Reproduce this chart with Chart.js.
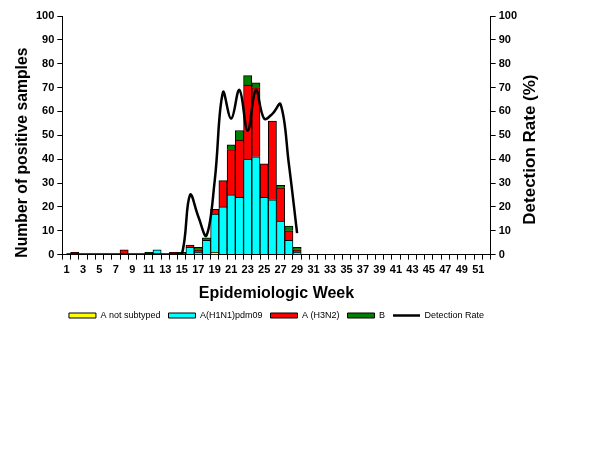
<!DOCTYPE html>
<html>
<head>
<meta charset="utf-8">
<script src="https://cdn.jsdelivr.net/npm/chart.js@4.4.1/dist/chart.umd.min.js"></script>
<style>
  html, body { margin: 0; padding: 0; background: #fff; }
  #wrap { width: 614px; height: 460px; }
</style>
</head>
<body>
<div id="wrap"><canvas id="fluChart" width="614" height="460"></canvas></div>
<script>
// epidemiologic weeks
const weeks = [
  1, 2, 3, 4, 5, 6, 7, 8, 9, 10, 11, 12, 13,
  14, 15, 16, 17, 18, 19, 20, 21, 22, 23, 24, 25, 26,
  27, 28, 29, 30, 31, 32, 33, 34, 35, 36, 37, 38, 39,
  40, 41, 42, 43, 44, 45, 46, 47, 48, 49, 50, 51, 52
];

// positive samples per week
const notSubtyped = [
  0, 0, 0, 0, 0, 0, 0, 0, 0, 0, 0, 0, 0,
  0, 0, 0, 0, 0, 1, 0, 0, 0, 0, 0, 0, 0,
  0, 0, 0, 0, 0, 0, 0, 0, 0, 0, 0, 0, 0,
  0, 0, 0, 0, 0, 0, 0, 0, 0, 0, 0, 0, 0
];
const h1n1 = [
  0, 0, 0, 0, 0, 0, 0, 0, 0, 0, 0, 2, 0,
  0, 0, 3, 1, 6, 16, 20, 25, 24, 40, 41, 24, 23,
  14, 6, 1, 0, 0, 0, 0, 0, 0, 0, 0, 0, 0,
  0, 0, 0, 0, 0, 0, 0, 0, 0, 0, 0, 0, 0
];
const h3n2 = [
  0, 1, 0, 0, 0, 0, 0, 2, 0, 0, 0, 0, 0,
  1, 0, 1, 1, 0, 2, 11, 19, 24, 31, 29, 14, 33,
  14, 4, 1, 0, 0, 0, 0, 0, 0, 0, 0, 0, 0,
  0, 0, 0, 0, 0, 0, 0, 0, 0, 0, 0, 0, 0
];
const fluB = [
  0, 0, 0, 0, 0, 0, 0, 0, 0, 0, 1, 0, 0,
  0, 1, 0, 1, 1, 0, 0, 2, 4, 4, 2, 0, 0,
  1, 2, 1, 0, 0, 0, 0, 0, 0, 0, 0, 0, 0,
  0, 0, 0, 0, 0, 0, 0, 0, 0, 0, 0, 0, 0
];

// detection rate (%)
const detectionRate = [
  0, 0, 0, 0, 0, 0, 0, 0, 0, 0, 0, 0, 0,
  0, 0, 25, 16, 8, 31, 68, 57, 69, 52, 69, 57, 59,
  63, 38, 9, null, null, null, null, null, null, null, null, null, null,
  null, null, null, null, null, null, null, null, null, null, null, null, null
];

const tickStops = [0, 10, 20, 30, 40, 50, 60, 70, 80, 90, 100];

const FONT = '"Liberation Sans", Arial, sans-serif';

function barSet(label, values, color) {
  return {
    type: 'bar',
    label: label,
    data: values,
    backgroundColor: color,
    borderColor: '#000',
    borderWidth: 1,
    yAxisID: 'y',
    stack: 'flu',
    order: 1,
    pointStyle: 'rect',
    categoryPercentage: 1.0,
    barPercentage: 1.0
  };
}

const data = {
  labels: weeks,
  datasets: [
    barSet('A not subtyped', notSubtyped, '#ffff00'),
    barSet('A(H1N1)pdm09', h1n1, '#00ffff'),
    barSet('A (H3N2)', h3n2, '#ff0000'),
    barSet('B', fluB, '#008000'),
    {
      type: 'line',
      label: 'Detection Rate',
      data: detectionRate,
      borderColor: '#000',
      backgroundColor: '#000',
      borderWidth: 2.5,
      pointRadius: 0,
      tension: 0.4,
      yAxisID: 'y1',
      order: 0,
      pointStyle: 'line',
      spanGaps: false
    }
  ]
};

// rotated axis titles, both reading bottom-to-top like the original
function drawSideTitle(ctx, text, x, y, size) {
  ctx.save();
  ctx.translate(x, y);
  ctx.rotate(-Math.PI / 2);
  ctx.font = 'bold ' + size + 'px ' + FONT;
  ctx.textAlign = 'center';
  ctx.textBaseline = 'middle';
  ctx.fillStyle = '#000';
  ctx.fillText(text, 0, 0);
  ctx.restore();
}

const sideTitles = {
  id: 'sideTitles',
  afterDraw(chart) {
    const a = chart.chartArea;
    drawSideTitle(chart.ctx, 'Number of positive samples', 23, a.bottom - 102, 15.75);
    drawSideTitle(chart.ctx, 'Detection Rate (%)', a.right + 40, a.bottom - 105, 17);
  }
};

const axisTitle = { size: 16, weight: 'bold', family: FONT };
const tickFont = { size: 11, weight: 'bold', family: FONT };
const hidden = 'rgba(0,0,0,0)';

const config = {
  data: data,
  plugins: [sideTitles],
  options: {
    responsive: false,
    animation: false,
    devicePixelRatio: 1,
    layout: { padding: { left: 11, right: 72, top: 16, bottom: 130 } },
    plugins: {
      tooltip: { enabled: false },
      legend: {
        position: 'bottom',
        labels: {
          usePointStyle: true,
          pointStyleWidth: 27,
          boxHeight: 5,
          padding: 8,
          color: '#000',
          font: { size: 9, family: FONT },
          sort: (a, b) => a.datasetIndex - b.datasetIndex
        }
      }
    },
    scales: {
      x: {
        stacked: true,
        grid: { offset: true, drawOnChartArea: false, color: '#000', tickLength: 5 },
        border: { color: '#000', width: 1 },
        ticks: {
          color: '#000',
          font: tickFont,
          autoSkip: false,
          maxRotation: 0,
          padding: 4,
          callback: function (value, index) {
            return index % 2 === 0 ? weeks[index] : '';
          }
        },
        title: { display: true, text: 'Epidemiologic Week', color: '#000', font: axisTitle, padding: { top: 3, bottom: 0 } }
      },
      y: {
        stacked: true,
        position: 'left',
        min: 0,
        max: 100,
        afterBuildTicks: (axis) => { axis.ticks = tickStops.map(v => ({ value: v })); },
        grid: { drawOnChartArea: false, color: '#000', tickLength: 5 },
        border: { color: '#000', width: 1 },
        ticks: { color: '#000', font: tickFont, padding: 3 },
        title: { display: true, text: 'Number of positive samples', color: hidden, font: { size: 15, weight: 'bold', family: FONT }, padding: 2 }
      },
      y1: {
        position: 'right',
        min: 0,
        max: 100,
        afterBuildTicks: (axis) => { axis.ticks = tickStops.map(v => ({ value: v })); },
        grid: { drawOnChartArea: false, color: '#000', tickLength: 5 },
        border: { color: '#000', width: 1 },
        ticks: { color: '#000', font: tickFont, padding: 3 },
        title: { display: true, text: 'Detection Rate (%)', color: hidden, font: { size: 15, weight: 'bold', family: FONT }, padding: 2 }
      }
    }
  }
};

const fluChart = new Chart(document.getElementById('fluChart'), config);
</script>
</body>
</html>
